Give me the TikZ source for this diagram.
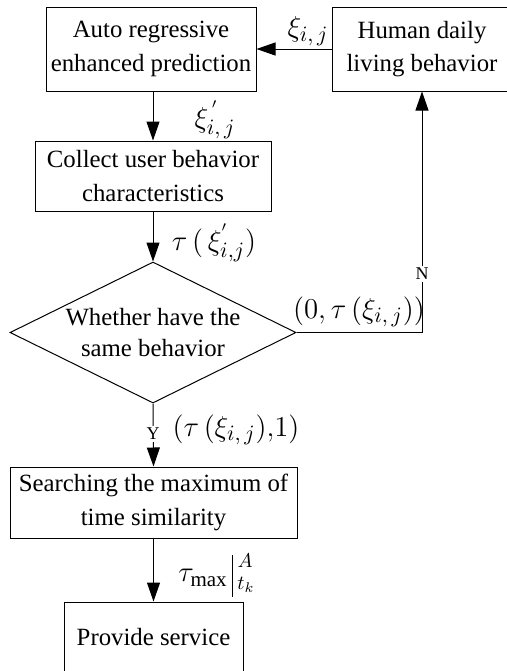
\documentclass[tikz,border=0pt]{standalone}
\usepackage{fontspec}
\setmainfont{Liberation Serif}
\usetikzlibrary{arrows.meta,shapes.geometric}
\begin{document}
\begin{tikzpicture}[x=0.5pt,y=-0.5pt,
  line width=0.5pt,
  box/.style={draw,rectangle,inner sep=0pt,align=center,font=\fontsize{12.4}{16.7}\selectfont},
  arr/.style={-{Triangle[length=9.5pt,width=6.5pt]}},
  lbl/.style={inner sep=0pt,font=\fontsize{15}{17}\selectfont},
  slbl/.style={inner sep=0pt,font=\fontsize{10}{11}\selectfont},
  yn/.style={fill=white,inner sep=1pt,font=\fontsize{9}{10}\selectfont}]
\useasboundingbox (0,0) rectangle (507,671);
\node[box,minimum width=105pt,minimum height=42pt] (A) at (151,49) {Auto regressive\\enhanced prediction};
\node[box,minimum width=90pt,minimum height=42pt] (H) at (422,49) {Human daily\\living behavior};
\node[box,minimum width=118pt,minimum height=35pt] (C) at (153,176) {Collect user behavior\\characteristics};
\node[draw,diamond,aspect=2,inner sep=0pt,minimum width=143pt,minimum height=70.5pt] (D) at (153,332.5) {};
\node[align=center,inner sep=0pt,font=\fontsize{12.4}{15.5}\selectfont] (Dt) at (D.center) {Whether have the\\same behavior};
\node[box,minimum width=143.5pt,minimum height=35.5pt] (S) at (153.5,502.5) {Searching the maximum of\\time similarity};
\node[box,minimum width=89.5pt,minimum height=35.5pt] (P) at (153.5,637.5) {Provide service};
\coordinate (R) at (422,332.5);
% connectors
\draw[arr] (H.west) -- (A.east);
\draw[arr] (A.south -| C.north) -- (C.north);
\draw[arr] (C.south) -- (D.north);
\draw[arr] (D.east) -- (R) -- (H.south);
\draw[arr] (D.south) -- (S.north);
\draw[arr] (S.south) -- (P.north);
% Y/N labels
\node[yn] (N) at (422,274) {N};
\node[yn] (Y) at (153,434) {Y};
% math labels
\node[lbl] (l1) at (308,31) {$\xi_{i,\,j}$};
\node[lbl] (l2) at (215,120) {$\xi^{\,'}_{i,\,j}$};
\node[lbl] (l3) at (214,243) {$\tau\,(\,\xi^{'}_{i,j})$};
\node[lbl] (l4) at (359,312) {$(0,\tau\,(\xi_{i,\,j}))$};
\node[lbl] (l5) at (236,430) {$(\tau\,(\xi_{i,\,j}),\!1)$};
% tau_max | A, t_k
\node[lbl] (tm) at (203,578) {$\tau_{\max}$};
\coordinate (bt) at (232,555);
\coordinate (bb) at (232,597);
\draw (bt) -- (bb);
\node[slbl] (sA) at (245,561) {$A$};
\node[slbl] (sT) at (246,585) {$t_k$};
\end{tikzpicture}
\end{document}
